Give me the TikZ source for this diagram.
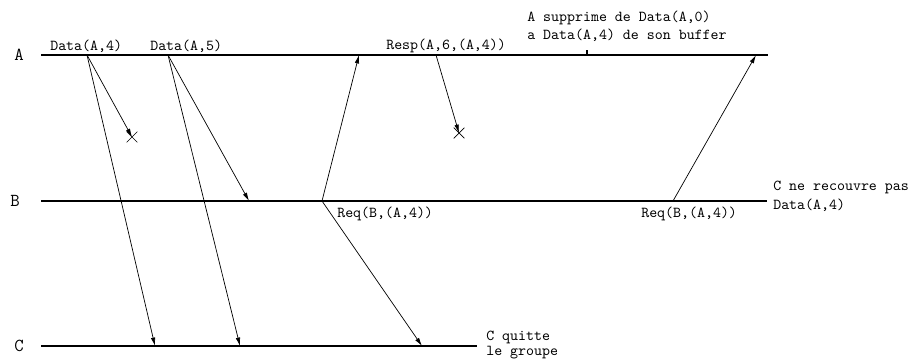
\documentclass[tikz,border=0pt]{standalone}
\usepackage{fontspec}
\usepackage{tikz}
\usetikzlibrary{arrows.meta, shapes.misc}

\tikzset{
  proc/.style={line width=1.6pt},
  msg/.style={-{Latex[length=6pt,width=3.2pt]}, line width=0.5pt},
  lbl/.style={font=\ttfamily\fontsize{10.8}{12}\selectfont, inner sep=0pt, anchor=west},
  pname/.style={font=\ttfamily\fontsize{13}{15}\selectfont, inner sep=0pt},
  lost/.style={cross out, draw, line width=0.5pt, minimum size=7pt, inner sep=0pt}
}

\begin{document}
\begin{tikzpicture}[x=0.025cm, y=-0.025cm]
  \useasboundingbox (0,0) rectangle (911,360);
  % processus
  \node[pname] (pA) at (19,55) {A};
  \node[pname] (pB) at (15,201) {B};
  \node[pname] (pC) at (19,346) {C};
  \coordinate (A0) at (41,55);   \coordinate (A1) at (768,55);
  \coordinate (B0) at (41,201);  \coordinate (B1) at (767,201);
  \coordinate (C0) at (41,346);  \coordinate (C1) at (477,346);
  \draw[proc] (A0) -- (A1);
  \draw[proc] (B0) -- (B1);
  \draw[proc] (C0) -- (C1);
  \draw[line width=1.2pt] (587,55) -- (587,50);
  % evenements
  \coordinate (a4) at (87,55);
  \coordinate (a5) at (168,55);
  \coordinate (r6) at (436,55);
  \coordinate (q1) at (322,201);
  \coordinate (q2) at (673,201);
  \coordinate (ra) at (359,55);
  \coordinate (rb) at (756,55);
  \coordinate (b5) at (249,201);
  \coordinate (c4) at (155,346);
  \coordinate (c5) at (240,346);
  \coordinate (cq) at (422,346);
  \node[lost] (x1) at (132,137) {};
  \node[lost] (x2) at (459,133) {};
  % messages
  \draw[msg] (a4) -- (c4);
  \draw[msg] (a4) -- (x1.center);
  \draw[msg] (a5) -- (c5);
  \draw[msg] (a5) -- (b5);
  \draw[msg] (q1) -- (ra);
  \draw[msg] (q1) -- (cq);
  \draw[msg] (r6) -- (x2.center);
  \draw[msg] (q2) -- (rb);
  % etiquettes
  \node[lbl] (l1) at (50,46) {Data(A,4)};
  \node[lbl] (l2) at (150,46) {Data(A,5)};
  \node[lbl] (l3) at (386,46) {Resp(A,6,(A,4))};
  \node[lbl] (l4) at (527,18) {A supprime de Data(A,0)};
  \node[lbl] (l5) at (527,35) {a Data(A,4) de son buffer};
  \node[lbl] (l6) at (337,214) {Req(B,(A,4))};
  \node[lbl] (l7) at (641,214) {Req(B,(A,4))};
  \node[lbl] (l8) at (773,187) {C ne recouvre pas};
  \node[lbl] (l9) at (773,205) {Data(A,4)};
  \node[lbl] (l10) at (486,337) {C quitte};
  \node[lbl] (l11) at (486,353) {le groupe};
\end{tikzpicture}
\end{document}
